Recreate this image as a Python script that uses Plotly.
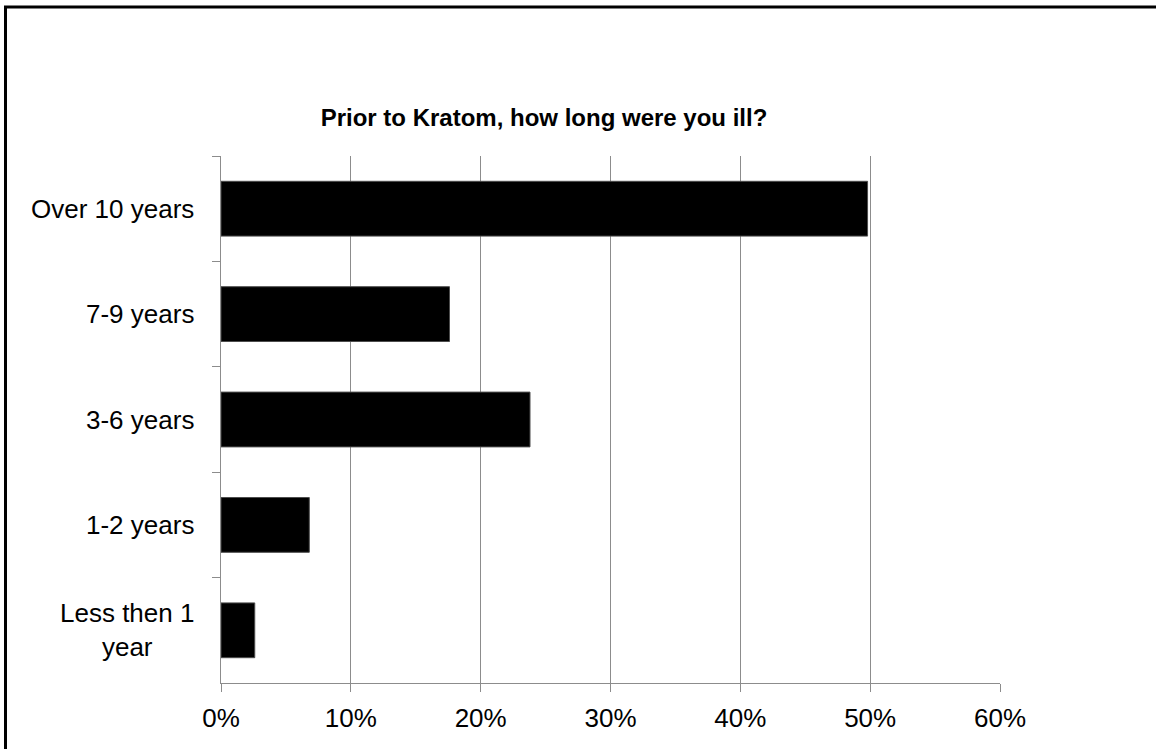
import plotly.graph_objects as go

# Survey answers: how long respondents were ill before trying Kratom
categories = ["Over 10 years", "7-9 years", "3-6 years", "1-2 years", "Less then 1<br>year"]
shares = [49.8, 17.6, 23.8, 6.8, 2.6]
x_ticks = [0, 10, 20, 30, 40, 50, 60]
x_tick_text = [f"{v}%" for v in x_ticks]

W, H = 1156, 749
ML, MR, MT, MB = 221, 156, 156, 66
GRID = "#8c8c8c"
FONT = "Liberation Sans, Arial, sans-serif"

fig = go.Figure(
    go.Bar(
        x=shares,
        y=categories,
        orientation="h",
        marker=dict(color="#000000", line=dict(color="#4d4d4d", width=1)),
        width=0.52,
        hoverinfo="x+y",
    )
)

# category labels drawn as centred text blocks left of the axis
annotations = [
    dict(
        x=-0.032, xref="paper", y=c, yref="y",
        text=c, showarrow=False, xanchor="right", yanchor="middle",
        align="center", font=dict(family=FONT, size=26, color="#000000"),
    )
    for c in categories
]

# outer chart frame
pw, ph = W - ML - MR, H - MT - MB
shapes = [
    dict(
        type="rect", xref="paper", yref="paper",
        x0=(5.5 - ML) / pw, x1=1.6, y0=-0.5, y1=1 + (MT - 7) / ph,
        line=dict(color="#000000", width=3), layer="above",
    )
]

fig.update_layout(
    width=W, height=H,
    margin=dict(l=ML, r=MR, t=MT, b=MB),
    paper_bgcolor="white", plot_bgcolor="white",
    showlegend=False,
    title=dict(
        text="Prior to Kratom, how long were you ill?",
        x=544 / W, xanchor="center",
        y=1 - 118 / H, yanchor="middle",
        font=dict(family=FONT, size=24, color="#000000", weight="bold"),
    ),
    xaxis=dict(
        range=[0, 60], tickmode="array", tickvals=x_ticks, ticktext=x_tick_text,
        showgrid=True, gridcolor=GRID, gridwidth=1,
        showline=True, linecolor=GRID, linewidth=1,
        ticks="outside", ticklen=8, tickcolor=GRID,
        tickfont=dict(family=FONT, size=26, color="#000000"),
        ticklabelstandoff=4, zeroline=False, fixedrange=True,
    ),
    yaxis=dict(
        categoryorder="array", categoryarray=categories, autorange="reversed",
        showgrid=False, showline=True, linecolor=GRID, linewidth=1,
        ticks="outside", ticklen=8, tickcolor=GRID, tickson="boundaries",
        showticklabels=False, fixedrange=True,
    ),
    annotations=annotations,
    shapes=shapes,
)

fig.write_html("out.html")
